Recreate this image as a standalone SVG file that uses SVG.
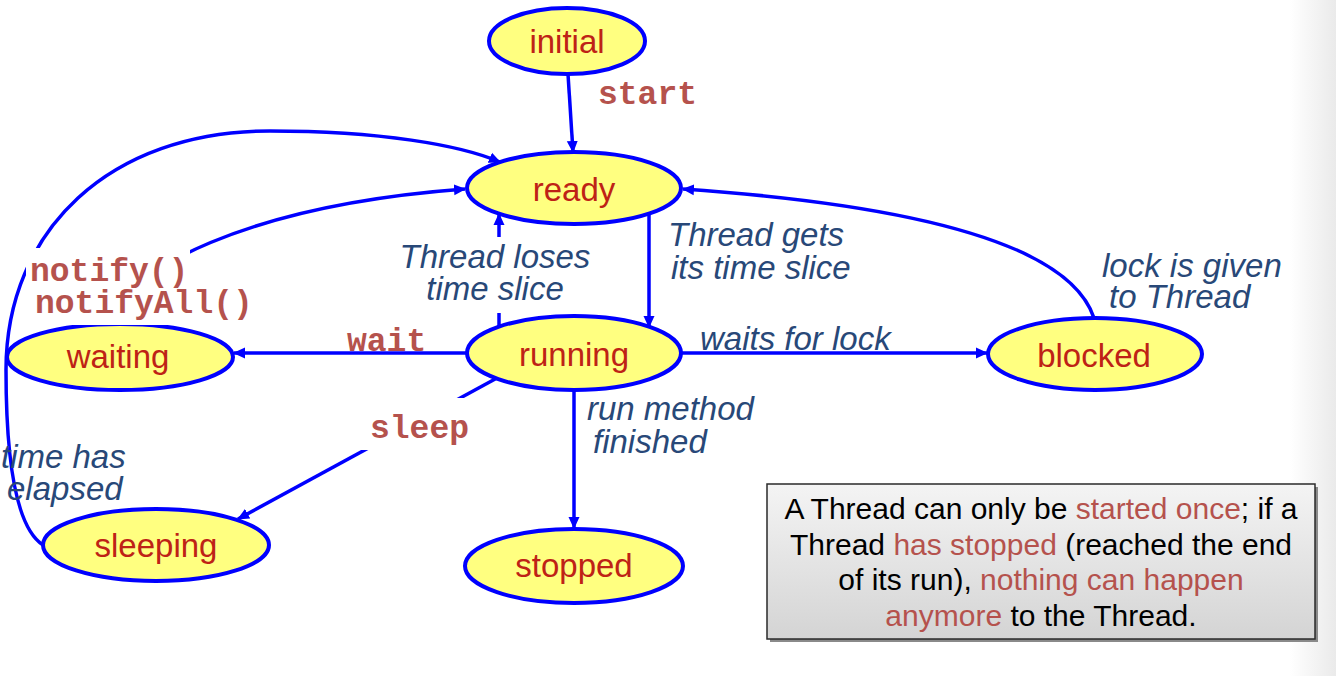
<svg xmlns="http://www.w3.org/2000/svg" width="1336" height="676" viewBox="0 0 1336 676">
<style>
.node ellipse{fill:#FFFF80;stroke:#0000FF;stroke-width:4}
.node text{font-family:"Liberation Sans",Arial,sans-serif;font-size:33px;fill:#BE2216;text-anchor:middle}
.edge{fill:none;stroke:#0000FF;stroke-width:3.5}
.code{font-family:"Liberation Mono","Courier New",monospace;font-weight:bold;font-size:33px;fill:#B5524D}
.lbl{font-family:"Liberation Sans",Arial,sans-serif;font-style:italic;font-size:33px;fill:#284878}
.bg{fill:#FFFFFF}
.note{font-family:"Liberation Sans",Arial,sans-serif;font-size:30px;fill:#000000;text-anchor:middle}
.hl{fill:#B5524D}
</style>
<defs>
<marker id="arr" viewBox="0 0 12 12" refX="11" refY="6" markerWidth="12" markerHeight="12" markerUnits="userSpaceOnUse" orient="auto">
<path d="M0,0.5 L12,6 L0,11.5 z" fill="#0000FF"/>
</marker>
<linearGradient id="boxg" x1="0" y1="0" x2="0" y2="1">
<stop offset="0" stop-color="#F4F4F4"/>
<stop offset="1" stop-color="#D4D4D4"/>
</linearGradient>
<linearGradient id="edgeg" x1="0" y1="0" x2="1" y2="0">
<stop offset="0" stop-color="#FFFFFF"/>
<stop offset="1" stop-color="#EAEAEA"/>
</linearGradient>
</defs>
<rect x="0" y="0" width="1336" height="676" fill="#FFFFFF"/>
<rect x="1290" y="0" width="46" height="676" fill="url(#edgeg)"/>

<g id="connectors">
<path class="edge" d="M568,74 L573,152" marker-end="url(#arr)"/>
<path class="edge" d="M649,214 L649,327" marker-end="url(#arr)"/>
<path class="edge" d="M499,327 L499,214" marker-end="url(#arr)"/>
<path class="edge" d="M467,353 L234,353" marker-end="url(#arr)"/>
<path class="edge" d="M682,353 L987,353" marker-end="url(#arr)"/>
<path class="edge" d="M1094,318 Q1060,215 683,189" marker-end="url(#arr)"/>
<path class="edge" d="M110,326 C120,270 250,205 465,189" marker-end="url(#arr)"/>
<path class="edge" d="M43,545 C12,525 6,440 6,370 C6,230 110,131 270,131 C380,131 460,145 500,162" marker-end="url(#arr)"/>
<path class="edge" d="M497,378 L238,519" marker-end="url(#arr)"/>
<path class="edge" d="M574,390 L574,528" marker-end="url(#arr)"/>
</g>

<g id="node-initial" class="node"><ellipse cx="567" cy="41" rx="78" ry="33"/><text x="567" y="53">initial</text></g>
<g id="node-ready" class="node"><ellipse cx="574" cy="188" rx="107" ry="36"/><text x="574" y="201">ready</text></g>
<g id="node-running" class="node"><ellipse cx="574" cy="353" rx="107" ry="37"/><text x="574" y="366">running</text></g>
<g id="node-waiting" class="node"><ellipse cx="120" cy="357" rx="113" ry="33"/><text x="118" y="368">waiting</text></g>
<g id="node-sleeping" class="node"><ellipse cx="156" cy="545" rx="113" ry="36"/><text x="156" y="557">sleeping</text></g>
<g id="node-stopped" class="node"><ellipse cx="574" cy="566" rx="109" ry="37"/><text x="574" y="577">stopped</text></g>
<g id="node-blocked" class="node"><ellipse cx="1095" cy="354" rx="107" ry="36"/><text x="1094" y="367">blocked</text></g>

<g id="labels">
<text class="code" x="598" y="104">start</text>
<rect class="bg" x="26" y="248" width="164" height="42"/>
<rect class="bg" x="30" y="290" width="228" height="35"/>
<text class="code" x="30" y="281">notify()</text>
<text class="code" x="35" y="313">notifyAll()</text>
<text class="code" x="347" y="351">wait</text>
<rect class="bg" x="360" y="398" width="120" height="52"/>
<text class="code" x="370" y="438">sleep</text>
<rect class="bg" x="395" y="237" width="202" height="76"/>
<text class="lbl" x="495" y="268" text-anchor="middle">Thread loses</text>
<text class="lbl" x="495" y="300" text-anchor="middle">time slice</text>
<text class="lbl" x="668" y="246">Thread gets</text>
<text class="lbl" x="671" y="279">its time slice</text>
<text class="lbl" x="700" y="350">waits for lock</text>
<text class="lbl" x="1102" y="277">lock is given</text>
<text class="lbl" x="1109" y="308">to Thread</text>
<text class="lbl" x="587" y="420">run method</text>
<text class="lbl" x="593" y="453">finished</text>
<text class="lbl" x="1" y="468">time has</text>
<text class="lbl" x="7" y="500">elapsed</text>
</g>

<g id="note">
<rect x="770" y="487" width="548" height="155" fill="#8A8A8A"/>
<rect x="767" y="484" width="548" height="155" fill="url(#boxg)" stroke="#2A2A2A" stroke-width="1.5"/>
<text class="note" x="1041" y="519">A Thread can only be <tspan class="hl">started once</tspan>; if a</text>
<text class="note" x="1041" y="555">Thread <tspan class="hl">has stopped</tspan> (reached the end</text>
<text class="note" x="1041" y="590">of its run), <tspan class="hl">nothing can happen</tspan></text>
<text class="note" x="1041" y="626"><tspan class="hl">anymore</tspan> to the Thread.</text>
</g>
</svg>
